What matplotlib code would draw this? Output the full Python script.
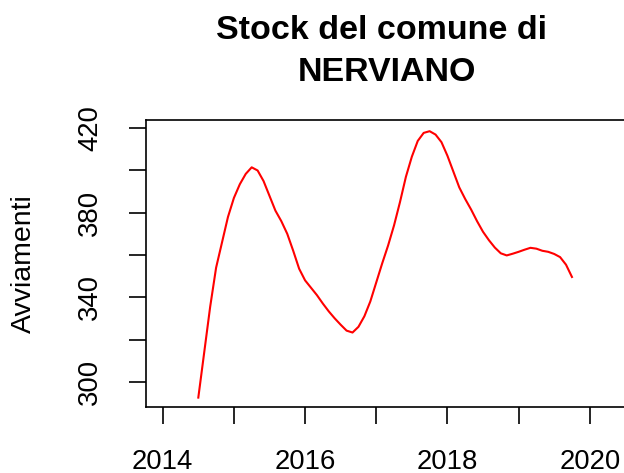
import numpy as np
import matplotlib
matplotlib.use("Agg")
import matplotlib.pyplot as plt

plt.rcParams['font.family'] = ['Liberation Sans', 'DejaVu Sans']

# Monthly series starting July 2014
start_year = 2014
start_month = 7
values = [292.5, 314, 335.5, 354, 366, 378, 387, 393.5, 398.4, 401.5, 400, 395,
          388, 381, 376, 370, 362, 353.5, 348, 344.5, 341, 337, 333.3, 330,
          327, 324.2, 323.3, 326, 331, 338, 347, 356, 364.5, 374, 385, 397,
          406.5, 414, 417.8, 418.6, 417, 413.4, 407, 399.5, 392, 386.5, 381.5, 376,
          371, 367, 363.5, 360.8, 359.8, 360.6, 361.5, 362.5, 363.4, 363, 362, 361.5,
          360.5, 359, 355.4, 349.6]
title_lines = ["Stock del comune di", "NERVIANO"]
y_label = "Avviamenti"
x_ticks = [2014, 2015, 2016, 2017, 2018, 2019, 2020]
x_labels = ["2014", "", "2016", "", "2018", "", "2020"]
y_ticks = [300, 320, 340, 360, 380, 400, 420]
y_labels = ["300", "", "340", "", "380", "", "420"]

W, H = 624, 473
fig = plt.figure(figsize=(W / 100, H / 100), dpi=100)

left_px, right_px, top_px, bottom_px = 145.5, 640, 120, 407
ax = fig.add_axes([left_px / W, 1 - bottom_px / H,
                   (right_px - left_px) / W, (bottom_px - top_px) / H])

t = start_year + (start_month - 1) / 12 + np.arange(len(values)) / 12
ax.plot(t, values, color='#FF0000', lw=1.5)

ax.set_xlim(2013.758, 2020.706)
ax.set_ylim(288.05, 423.9)

ax.set_xticks(x_ticks)
ax.set_xticklabels(x_labels)
ax.set_yticks(y_ticks)
ax.set_yticklabels(y_labels)
ax.tick_params(axis='both', direction='out', length=12.5, width=1.2,
               labelsize=19.8, pad=18, color='black')
for lab in ax.get_yticklabels():
    lab.set_rotation(90)
    lab.set_va('center')
for s in ax.spines.values():
    s.set_linewidth(1.2)
    s.set_color('black')

fig.text(24 / W, 1 - 263.5 / H, y_label, rotation=90, ha='center', va='center',
         fontsize=20.5)
fig.text(381 / W, 1 - 39 / H, title_lines[0], ha='center', va='baseline',
         fontsize=24.5, fontweight='bold')
fig.text(387 / W, 1 - 81 / H, title_lines[1], ha='center', va='baseline',
         fontsize=24.5, fontweight='bold')

fig.savefig("out.png", dpi=100)
